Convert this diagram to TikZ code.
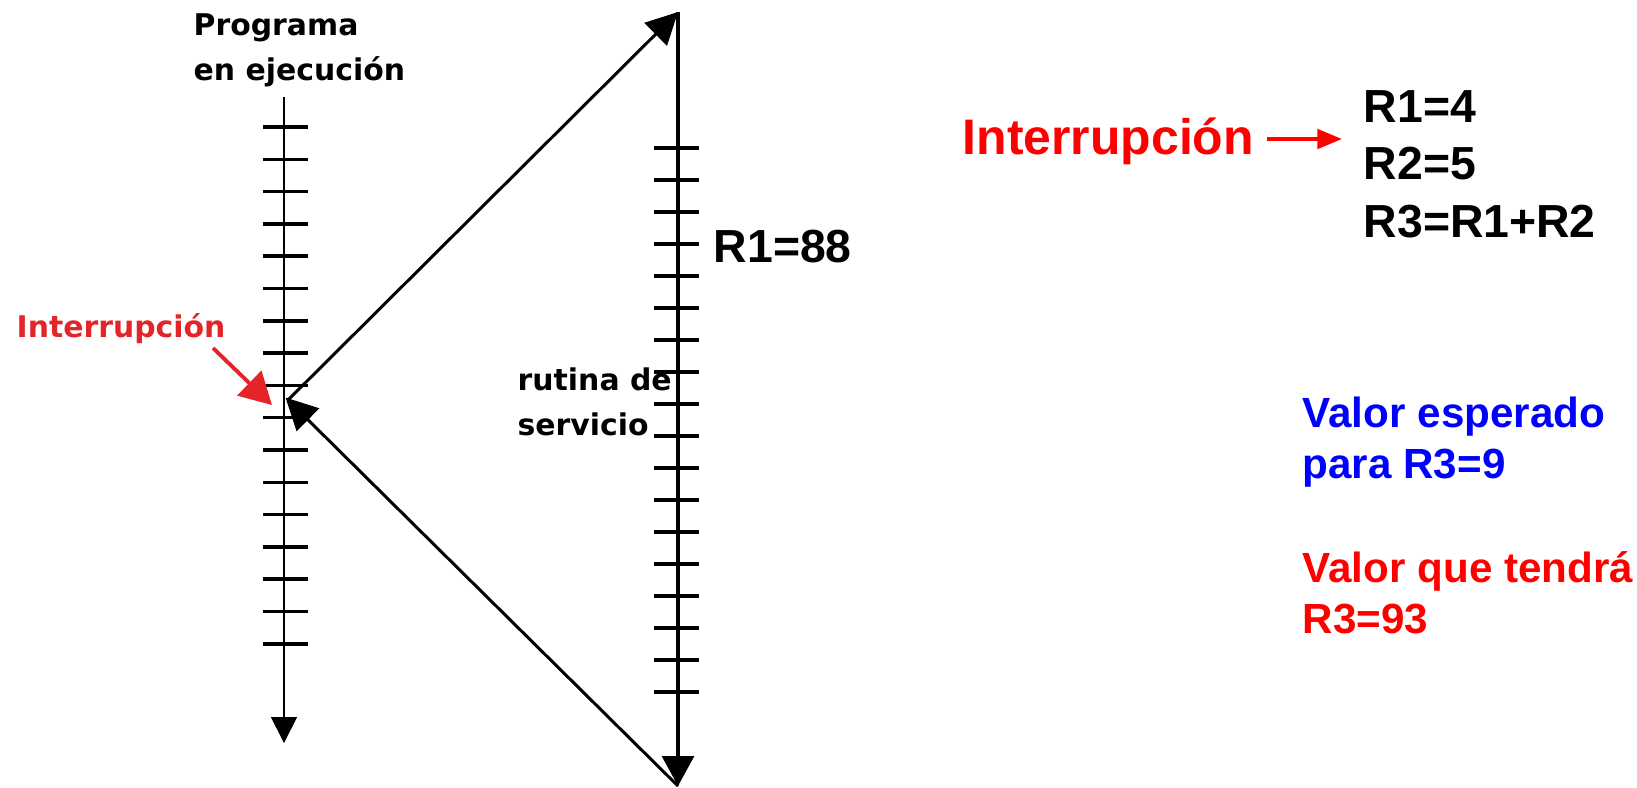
\documentclass[tikz,border=0pt]{standalone}
\usepackage{fontspec}
\setmainfont{Liberation Sans}
\newfontfamily\heavyfont{DejaVu Sans}
\usepackage{xcolor}
\usetikzlibrary{arrows.meta}
\definecolor{intred}{RGB}{228,36,40}

\tikzset{
    tickmark/.style={line width=1pt},
    heavytext/.style={font=\heavyfont\bfseries\fontsize{8.5}{12.8}\selectfont, align=left, anchor=base west, inner sep=0pt},
    regtext/.style={font=\bfseries\fontsize{13.2}{16}\selectfont, anchor=base west, inner sep=0pt},
    notetext/.style={font=\bfseries\fontsize{12}{14.5}\selectfont, align=left, anchor=base west, inner sep=0pt},
    flowarrow/.style={line width=0.85pt, -{Triangle[length=9pt,width=9pt]}},
}

\begin{document}
\begin{tikzpicture}
    \useasboundingbox (0,0) rectangle (16.37,-7.87);

    \coordinate (ltop) at (2.84,-0.97);
    \coordinate (lbot) at (2.84,-7.43);
    \coordinate (rtop) at (6.78,-0.12);
    \coordinate (rbot) at (6.78,-7.86);
    \coordinate (vpt) at (2.88,-4.00);

    \foreach \k in {0,...,16}
        \draw[tickmark] (2.63,{-1.27-0.323*\k}) -- (3.08,{-1.27-0.323*\k});
    \foreach \k in {0,...,17}
        \draw[tickmark] (6.54,{-1.48-0.32*\k}) -- (6.99,{-1.48-0.32*\k});

    \draw[line width=0.5pt, -{Triangle[length=7.4pt,width=7.4pt]}] (ltop) -- (lbot);
    \draw[line width=1.1pt, -{Triangle[length=8.5pt,width=9pt]}] (rtop) -- (rbot);
    \draw[flowarrow] (vpt) -- (rtop);
    \draw[flowarrow, shorten >=-1pt] (rbot) -- (vpt);

    \node[heavytext] (prog) at (1.93,-0.80) {Programa\\en ejecución};
    \node[heavytext, text=intred] (lint) at (0.16,-3.37) {Interrupción};
    \node[heavytext] (rutina) at (5.17,-4.35) {rutina de\\servicio};

    \coordinate (lstart) at (2.13,-3.48);
    \coordinate (ltip) at (2.72,-4.05);
    \draw[intred, line width=1.1pt, -{Triangle[length=9pt,width=9.7pt]}] (lstart) -- (ltip);

    \node[regtext] (r88) at (7.13,-2.62) {R1=88};

    \node[regtext, text=red, font=\bfseries\fontsize{14.2}{17}\selectfont] (rint) at (9.62,-1.54) {Interrupción};
    \node[regtext] (r1) at (13.63,-1.22) {R1=4};
    \node[regtext] (r2) at (13.63,-1.79) {R2=5};
    \node[regtext] (r3) at (13.63,-2.37) {R3=R1+R2};
    \coordinate (rgap) at (12.67,-1.39);
    \coordinate (rtip) at (13.42,-1.39);
    \draw[red, line width=1.1pt, -{Triangle[length=7pt,width=5.5pt]}] (rgap) -- (rtip);

    \node[notetext, text=blue] (esperado) at (13.02,-4.78) {Valor esperado\\para R3=9};
    \node[notetext, text=red] (tendra) at (13.02,-6.33) {Valor que tendrá\\R3=93};
\end{tikzpicture}
\end{document}
